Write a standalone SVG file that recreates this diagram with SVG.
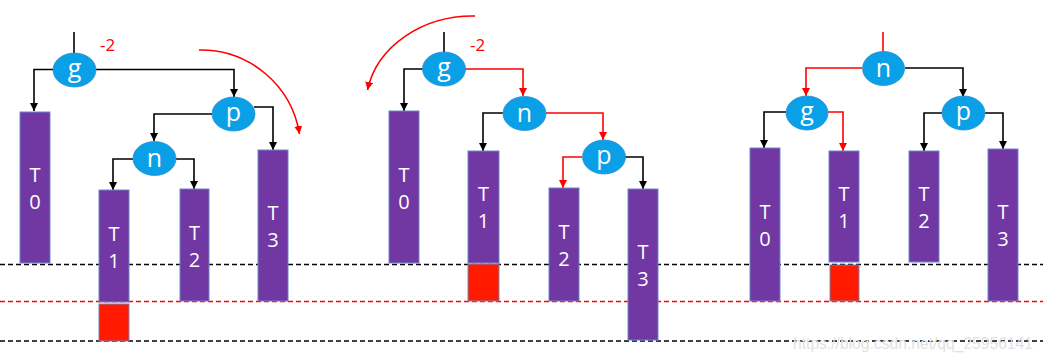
<svg xmlns="http://www.w3.org/2000/svg" width="1043" height="362" viewBox="0 0 1043 362">
<defs>
<marker id="ab" markerUnits="userSpaceOnUse" markerWidth="10" markerHeight="10" refX="8" refY="4" orient="auto"><path d="M0,0 L8,4 L0,8 Z" fill="#000"/></marker>
<marker id="ar" markerUnits="userSpaceOnUse" markerWidth="10" markerHeight="10" refX="8" refY="4" orient="auto"><path d="M0,0 L8,4 L0,8 Z" fill="#f00"/></marker>
<style>
.bg{fill:#fff}
.dk{stroke:#000;stroke-width:1.3;stroke-dasharray:5 3;fill:none}
.dr{stroke:#f00;stroke-width:1.3;stroke-dasharray:5 3;fill:none}
.ell{fill:#0aa0e8;stroke:#2f8fd3;stroke-width:0.8}
.lt{fill:#fff;font-family:"Open Sans","Liberation Sans",sans-serif;font-size:25px;text-anchor:middle}
.tr{fill:#7138a3;stroke:#6a86c8;stroke-width:1}
.rb{fill:#ff1a00;stroke:#7a86b0;stroke-width:1}
.tt{fill:#fff;font-family:"Open Sans","Liberation Sans",sans-serif;font-size:20px;text-anchor:middle}
.cb{stroke:#000;stroke-width:1.6;fill:none;marker-end:url(#ab)}
.cr{stroke:#f00;stroke-width:1.6;fill:none;marker-end:url(#ar)}
.lb{stroke:#000;stroke-width:1.6;fill:none}
.lr{stroke:#f00;stroke-width:1.6;fill:none}
.m2{fill:#f00;font-family:"Open Sans","Liberation Sans",sans-serif;font-size:17px}
.wm{fill:#e2e2e2;font-family:"Liberation Sans",Arial,sans-serif;font-size:16px}
</style>
</defs>
<rect class="bg" x="0" y="0" width="1043" height="362"/>
<g id="levels">
<line class="dk" x1="0" y1="264.5" x2="1043" y2="264.5"/>
<line class="dr" x1="0" y1="301.5" x2="1043" y2="301.5"/>
<line class="dk" x1="0" y1="341" x2="1043" y2="341"/>
</g>
<g id="connectors">
<path class="lb" d="M74,32 V53"/>
<path class="cb" d="M53,69.5 H34 V111"/>
<path class="cb" d="M96,69.5 H234 V97"/>
<path class="cb" d="M212,114 H154 V141"/>
<path class="cb" d="M254,107 H273 V150"/>
<path class="cb" d="M133,159 H113 V190"/>
<path class="cb" d="M176,159 H194 V189"/>
<path class="cr" d="M199,50 A100,100 0 0 1 299.5,134"/>
<path class="lb" d="M444,32 V52"/>
<path class="cb" d="M423,69 H404 V111"/>
<path class="cr" d="M465,69 H523 V96"/>
<path class="cb" d="M503,113 H483 V151"/>
<path class="cr" d="M546,113 H603 V140"/>
<path class="cr" d="M582,157 H563 V188"/>
<path class="cb" d="M625,157 H643 V189"/>
<path class="cr" d="M475,16 A107,90 0 0 0 367.5,90"/>
<path class="lr" d="M883,32 V52"/>
<path class="cr" d="M862,68 H806 V96"/>
<path class="cb" d="M905,68 H963 V97"/>
<path class="cb" d="M786,112 H764 V148"/>
<path class="cr" d="M828,112 H843 V151"/>
<path class="cb" d="M942,113 H924 V151"/>
<path class="cb" d="M985,113 H1003 V149"/>
</g>
<text class="m2" x="100" y="51">-2</text>
<text class="m2" x="470" y="51">-2</text>
<g id="p1-g"><ellipse class="ell" cx="74.5" cy="70" rx="21.5" ry="17"/><text class="lt" x="74.5" y="77">g</text></g>
<g id="p1-p"><ellipse class="ell" cx="233.5" cy="114" rx="21.5" ry="17"/><text class="lt" x="233.5" y="121">p</text></g>
<g id="p1-n"><ellipse class="ell" cx="154.5" cy="158.5" rx="21.5" ry="17"/><text class="lt" x="154.5" y="166.5">n</text></g>
<g id="p1-T0"><rect class="tr" x="20" y="112" width="30" height="151"/><text class="tt" x="35" y="182">T</text><text class="tt" x="35" y="209">0</text></g>
<g id="p1-T1"><rect class="tr" x="99" y="190" width="30" height="112"/><text class="tt" x="114" y="240.5">T</text><text class="tt" x="114" y="267.5">1</text></g>
<g id="p1-red"><rect class="rb" x="99" y="304" width="30" height="37"/></g>
<g id="p1-T2"><rect class="tr" x="180" y="189" width="29" height="112"/><text class="tt" x="194.5" y="240">T</text><text class="tt" x="194.5" y="267">2</text></g>
<g id="p1-T3"><rect class="tr" x="258" y="150" width="30" height="151"/><text class="tt" x="273" y="220">T</text><text class="tt" x="273" y="247">3</text></g>
<g id="p2-g"><ellipse class="ell" cx="444" cy="69" rx="21.5" ry="17"/><text class="lt" x="444" y="76">g</text></g>
<g id="p2-n"><ellipse class="ell" cx="524.5" cy="113.5" rx="21.5" ry="17"/><text class="lt" x="524.5" y="121.5">n</text></g>
<g id="p2-p"><ellipse class="ell" cx="604" cy="157" rx="21.5" ry="17"/><text class="lt" x="604" y="164">p</text></g>
<g id="p2-T0"><rect class="tr" x="389" y="111" width="30" height="152"/><text class="tt" x="404" y="182">T</text><text class="tt" x="404" y="209">0</text></g>
<g id="p2-T1"><rect class="tr" x="468" y="151" width="31" height="112"/><text class="tt" x="483.5" y="201">T</text><text class="tt" x="483.5" y="228">1</text></g>
<g id="p2-red"><rect class="rb" x="468" y="264" width="31" height="37"/></g>
<g id="p2-T2"><rect class="tr" x="549" y="188" width="30" height="113"/><text class="tt" x="564" y="239">T</text><text class="tt" x="564" y="266">2</text></g>
<g id="p2-T3"><rect class="tr" x="628" y="189" width="30" height="151"/><text class="tt" x="643" y="259">T</text><text class="tt" x="643" y="286">3</text></g>
<g id="p3-n"><ellipse class="ell" cx="883.5" cy="68.5" rx="21" ry="17"/><text class="lt" x="883.5" y="76.5">n</text></g>
<g id="p3-g"><ellipse class="ell" cx="807" cy="113" rx="21" ry="17"/><text class="lt" x="807" y="120">g</text></g>
<g id="p3-p"><ellipse class="ell" cx="963.5" cy="113" rx="21.5" ry="17"/><text class="lt" x="963.5" y="120">p</text></g>
<g id="p3-T0"><rect class="tr" x="750" y="148" width="30" height="153"/><text class="tt" x="765" y="218.5">T</text><text class="tt" x="765" y="245.5">0</text></g>
<g id="p3-T1"><rect class="tr" x="829" y="151" width="30" height="111"/><text class="tt" x="844" y="200.5">T</text><text class="tt" x="844" y="227.5">1</text></g>
<g id="p3-red"><rect class="rb" x="830" y="265" width="29" height="36"/></g>
<g id="p3-T2"><rect class="tr" x="909" y="151" width="30" height="111"/><text class="tt" x="924" y="200.5">T</text><text class="tt" x="924" y="227.5">2</text></g>
<g id="p3-T3"><rect class="tr" x="988" y="149" width="30" height="152"/><text class="tt" x="1003" y="219">T</text><text class="tt" x="1003" y="246">3</text></g>
<text class="wm" x="793" y="349" textLength="240" lengthAdjust="spacingAndGlyphs">https://blog.csdn.net/qq_25956141</text>
</svg>
